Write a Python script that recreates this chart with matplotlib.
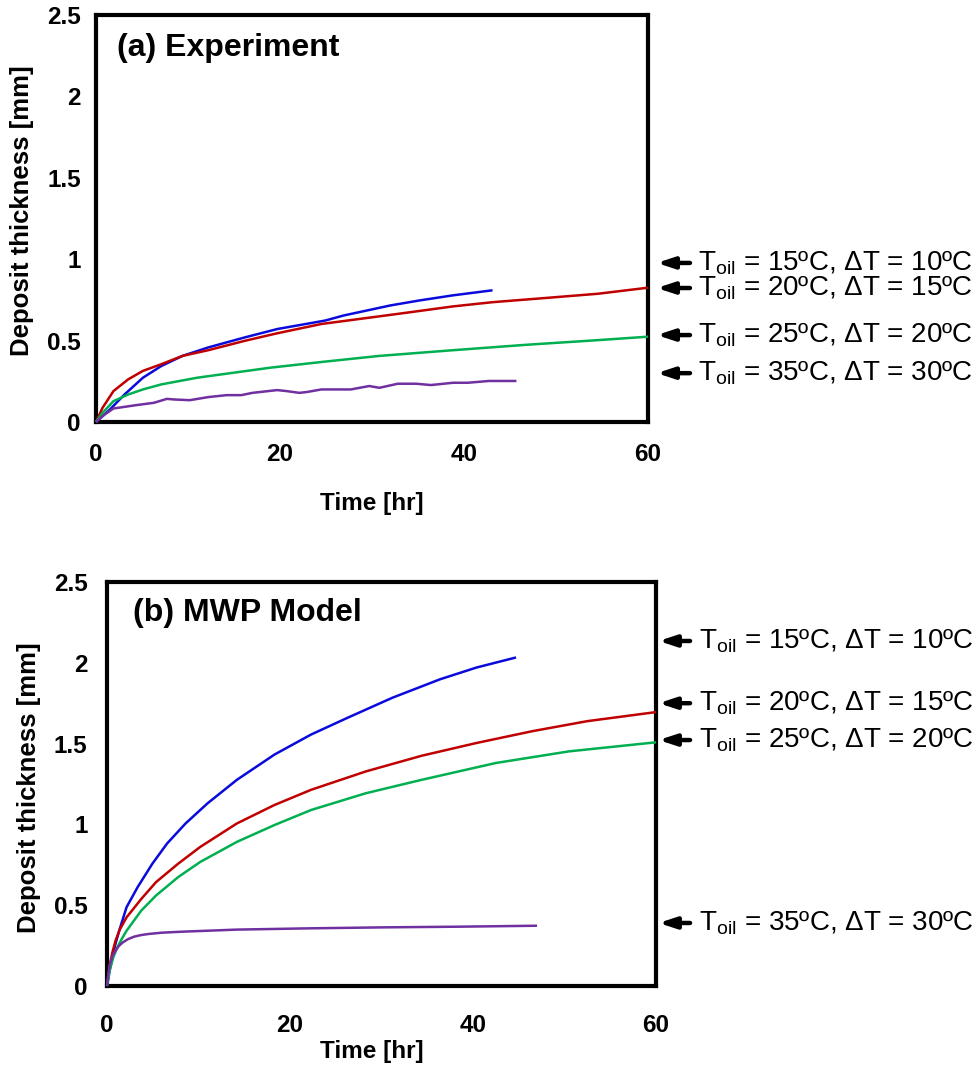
import matplotlib
matplotlib.use("Agg")
import matplotlib.pyplot as plt

# --- style ---
COL_BLUE = "#0A0ADC"
COL_RED = "#C00000"
COL_GREEN = "#00B050"
COL_PURPLE = "#7030A0"
FONT = "Liberation Sans"

plt.rcParams["font.family"] = [FONT, "DejaVu Sans"]
plt.rcParams["mathtext.fontset"] = "custom"
plt.rcParams["mathtext.rm"] = FONT
plt.rcParams["mathtext.it"] = FONT + ":italic"
plt.rcParams["mathtext.bf"] = FONT + ":bold"

# --- data: (a) experiment ---
exp_blue_t = [0, 1.5, 3.1, 5.1, 7.1, 9.4, 12.2, 16.2, 19.7, 24.9, 26.9, 32.0, 35.2, 38.8, 43.1]
exp_blue_d = [0, 0.076, 0.169, 0.272, 0.344, 0.406, 0.458, 0.52, 0.571, 0.623, 0.654, 0.716, 0.747, 0.778, 0.809]

exp_red_t = [0, 0.71, 1.9, 3.5, 5.1, 7.1, 9.4, 12.2, 16.2, 19.7, 24.5, 32.8, 38.8, 43.1, 48.7, 54.6, 60]
exp_red_d = [0, 0.087, 0.19, 0.262, 0.314, 0.355, 0.406, 0.441, 0.499, 0.545, 0.602, 0.664, 0.71, 0.736, 0.761, 0.788, 0.825]

exp_green_t = [0, 0.71, 1.9, 3.5, 5.1, 7.1, 11.0, 15.0, 19.0, 24.9, 30.8, 38.8, 46.7, 54.6, 60]
exp_green_d = [0, 0.056, 0.128, 0.169, 0.2, 0.231, 0.272, 0.303, 0.334, 0.371, 0.406, 0.441, 0.474, 0.503, 0.524]

exp_purple_t = [0, 0.91, 1.9, 4.3, 6.3, 7.7, 8.6, 10.2, 12.2, 14.2, 15.8, 17.0, 19.7, 20.7, 22.1, 22.9,
                24.5, 27.7, 29.7, 30.8, 32.8, 34.8, 36.4, 38.8, 40.4, 42.7, 45.7]
exp_purple_d = [0, 0.045, 0.083, 0.103, 0.118, 0.142, 0.138, 0.134, 0.153, 0.165, 0.165, 0.179, 0.196, 0.19,
                0.179, 0.184, 0.2, 0.2, 0.221, 0.21, 0.235, 0.235, 0.227, 0.241, 0.241, 0.252, 0.252]

# --- data: (b) MWP model ---
mod_blue_t = [0, 0.25, 0.52, 0.9, 1.33, 2.14, 3.35, 4.96, 6.57, 8.59, 11.0, 14.2, 18.3, 22.3, 26.3, 31.2, 36.4,
              40.4, 44.7]
mod_blue_d = [0, 0.085, 0.156, 0.255, 0.342, 0.488, 0.612, 0.757, 0.882, 1.006, 1.131, 1.276, 1.432, 1.556,
              1.66, 1.784, 1.898, 1.971, 2.033]

mod_red_t = [0, 0.32, 0.6, 0.93, 1.4, 2.14, 3.75, 5.36, 7.78, 10.2, 14.2, 18.3, 22.3, 28.3, 34.4, 40.4, 46.5,
             52.5, 60]
mod_red_d = [0, 0.135, 0.21, 0.28, 0.35, 0.425, 0.539, 0.643, 0.757, 0.861, 1.006, 1.12, 1.214, 1.328, 1.425,
             1.504, 1.577, 1.639, 1.695]

mod_green_t = [0, 0.32, 0.7, 1.13, 1.6, 2.14, 3.75, 5.36, 7.78, 10.2, 14.2, 18.3, 22.3, 28.3, 34.4, 42.5,
               50.5, 60]
mod_green_d = [0, 0.104, 0.18, 0.239, 0.29, 0.342, 0.467, 0.56, 0.674, 0.768, 0.892, 0.996, 1.089, 1.193,
               1.276, 1.38, 1.452, 1.508]

mod_purple_t = [0, 0.15, 0.32, 0.6, 0.93, 1.3, 1.73, 2.3, 2.94, 3.7, 4.56, 6.0, 8.19, 14.2, 22.3, 30.4, 38.4,
                47.0]
mod_purple_d = [0, 0.075, 0.135, 0.185, 0.218, 0.248, 0.27, 0.29, 0.305, 0.315, 0.322, 0.33, 0.336, 0.349,
                0.357, 0.363, 0.367, 0.373]

case_labels = [
    "T$_{\\mathrm{oil}}$ = 15ºC, ΔT = 10ºC",
    "T$_{\\mathrm{oil}}$ = 20ºC, ΔT = 15ºC",
    "T$_{\\mathrm{oil}}$ = 25ºC, ΔT = 20ºC",
    "T$_{\\mathrm{oil}}$ = 35ºC, ΔT = 30ºC",
]
exp_label_y = [0.977, 0.823, 0.534, 0.30]
mod_label_y = [2.135, 1.75, 1.522, 0.39]

x_ticks = [0, 20, 40, 60]
y_ticks = [0, 0.5, 1, 1.5, 2, 2.5]
y_ticklabels = ["0", "0.5", "1", "1.5", "2", "2.5"]


def _style_axes(ax, xpad, ypad):
    ax.set_xlim(0, 60)
    ax.set_ylim(0, 2.5)
    ax.set_xticks(x_ticks)
    ax.set_yticks(y_ticks)
    ax.set_yticklabels(y_ticklabels)
    for sp in ax.spines.values():
        sp.set_linewidth(3.0)
        sp.set_color("black")
    ax.tick_params(axis="both", length=0, labelsize=17.5)
    ax.tick_params(axis="x", pad=xpad)
    ax.tick_params(axis="y", pad=ypad)
    for lab in ax.get_xticklabels() + ax.get_yticklabels():
        lab.set_fontweight("bold")


def _draw_cases(ax, series):
    cols = [COL_BLUE, COL_RED, COL_GREEN, COL_PURPLE]
    for (t, d), c in zip(series, cols):
        ax.plot(t, d, color=c, linewidth=1.8, solid_capstyle="butt", clip_on=False, zorder=3)


def _draw_labels(ax, ys, tip, tail, txt):
    tr = ax.get_yaxis_transform()
    for lab, yv in zip(case_labels, ys):
        ax.annotate("", xy=(tip, yv), xycoords=tr, xytext=(tail, yv), textcoords=tr,
                    arrowprops=dict(arrowstyle="-|>,head_length=1.0,head_width=0.33", color="black",
                                    lw=3.2, shrinkA=0, shrinkB=0), annotation_clip=False)
        ax.text(txt, yv, lab, transform=tr, ha="left", va="center", fontsize=20, color="black")


fig = plt.figure(figsize=(9.76, 10.66), dpi=100, facecolor="white")

# (a) experiment
ax1 = fig.add_axes([96 / 976, 1 - 422 / 1066, 552 / 976, 407 / 1066])
_style_axes(ax1, xpad=15, ypad=11)
_draw_cases(ax1, [(exp_blue_t, exp_blue_d), (exp_red_t, exp_red_d),
                  (exp_green_t, exp_green_d), (exp_purple_t, exp_purple_d)])
ax1.text(0.038, 0.92, "(a) Experiment", transform=ax1.transAxes, ha="left", va="center",
         fontsize=23, fontweight="bold")
ax1.set_xlabel("Time [hr]", fontsize=17.5, fontweight="bold")
ax1.set_ylabel("Deposit thickness [mm]", fontsize=18.5, fontweight="bold")
ax1.xaxis.set_label_coords(0.5, -0.172)
ax1.yaxis.set_label_coords(-0.112, 0.52)
_draw_labels(ax1, exp_label_y, tip=1.016, tail=1.076, txt=1.09)

# (b) MWP model
ax2 = fig.add_axes([107 / 976, 1 - 986 / 1066, 549 / 976, 404 / 1066])
_style_axes(ax2, xpad=20, ypad=14)
_draw_cases(ax2, [(mod_blue_t, mod_blue_d), (mod_red_t, mod_red_d),
                  (mod_green_t, mod_green_d), (mod_purple_t, mod_purple_d)])
ax2.text(0.047, 0.923, "(b) MWP Model", transform=ax2.transAxes, ha="left", va="center",
         fontsize=23, fontweight="bold")
ax2.set_xlabel("Time [hr]", fontsize=17.5, fontweight="bold")
ax2.set_ylabel("Deposit thickness [mm]", fontsize=18.5, fontweight="bold")
ax2.xaxis.set_label_coords(0.483, -0.134)
ax2.yaxis.set_label_coords(-0.12, 0.49)
_draw_labels(ax2, mod_label_y, tip=1.005, tail=1.062, txt=1.078)

fig.savefig("out.png", dpi=100, facecolor="white")
